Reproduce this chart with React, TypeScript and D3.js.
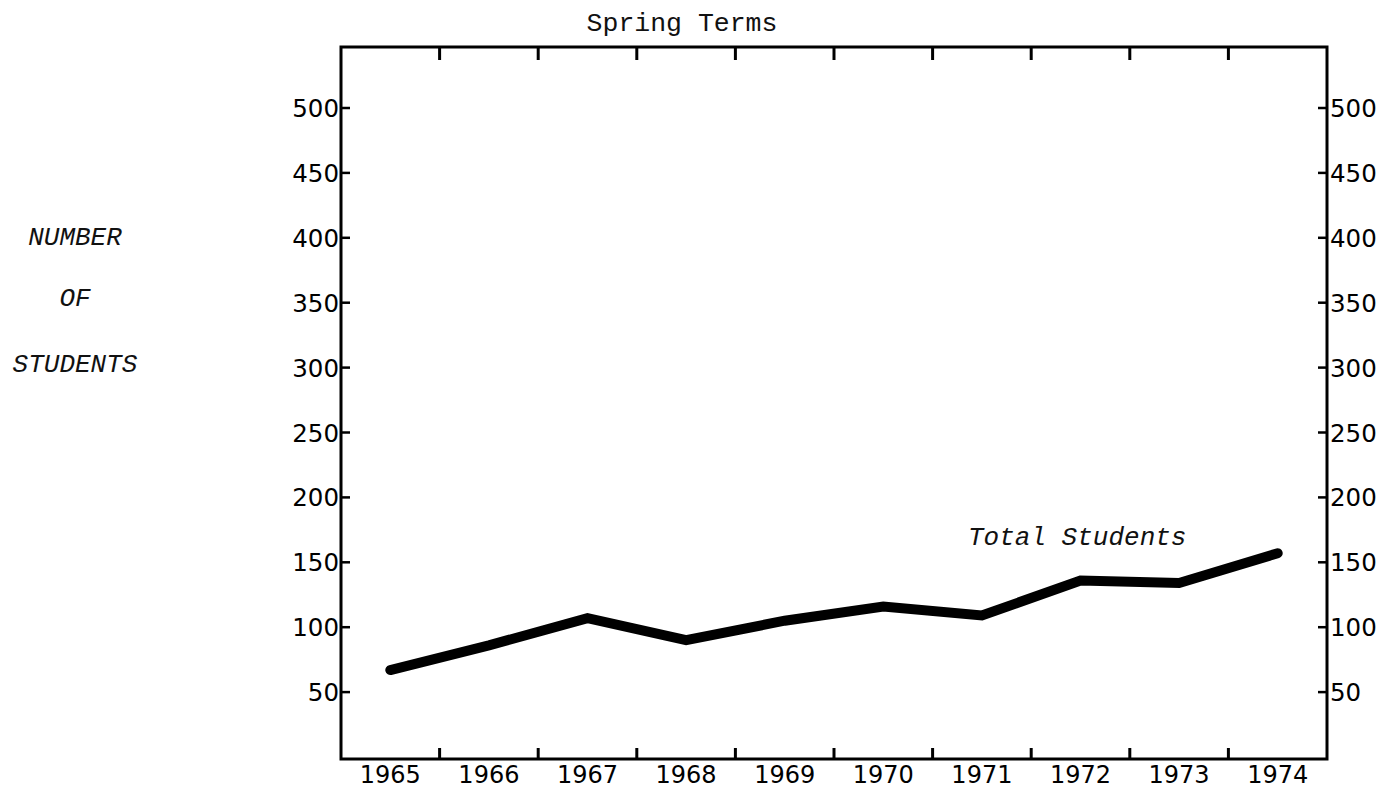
import React from 'react';
import * as d3 from 'd3';

const years = ['1965', '1966', '1967', '1968', '1969', '1970', '1971', '1972', '1973', '1974'];
const totalStudents = [67, 86, 107, 90, 105, 116, 109, 136, 134, 157];
const yTicks = [50, 100, 150, 200, 250, 300, 350, 400, 450, 500];
const axisTitleLines = ['NUMBER', 'OF', 'STUDENTS'];
const chartTitle = 'Spring Terms';
const seriesLabel = 'Total Students';

const W = 1383;
const H = 790;
const left = 341;
const right = 1327;
const top = 47;
const bottom = 759;

export default function App() {
  const x = d3.scaleBand<string>().domain(years).range([left, right]).padding(0);
  const y = d3.scaleLinear().domain([0, 547]).range([757, top]);
  const line = d3
    .line<number>()
    .x((_, i) => (x(years[i]) as number) + x.bandwidth() / 2)
    .y((d) => y(d));
  const boundaries = years.slice(1).map((yr) => x(yr) as number);
  const mono = '"Liberation Mono", "DejaVu Sans Mono", monospace';
  const sans = '"DejaVu Sans", Verdana, sans-serif';
  return (
    <svg width={W} height={H} style={{ position: 'absolute', left: 0, top: 0, background: '#fff' }}>
      <rect x={0} y={0} width={W} height={H} fill="#fff" />
      <text x={682} y={31} textAnchor="middle" fontFamily={mono} fontSize={26.5} fill="#111">
        {chartTitle}
      </text>
      {axisTitleLines.map((t, i) => (
        <text key={t} x={75} y={[245, 306, 372][i]} textAnchor="middle" fontFamily={mono} fontStyle="italic" fontSize={26} fill="#111">
          {t}
        </text>
      ))}
      <rect x={left} y={top} width={right - left} height={bottom - top} fill="none" stroke="#000" strokeWidth={3} />
      {boundaries.map((bx, i) => (
        <g key={i}>
          <line x1={bx} x2={bx} y1={bottom} y2={bottom - 11} stroke="#000" strokeWidth={3} />
          <line x1={bx} x2={bx} y1={top} y2={top + 13} stroke="#000" strokeWidth={3} />
        </g>
      ))}
      {years.map((yr) => (
        <text key={yr} x={(x(yr) as number) + x.bandwidth() / 2} y={783} textAnchor="middle" fontFamily={sans} fontSize={24} fill="#000">
          {yr}
        </text>
      ))}
      {yTicks.map((v) => (
        <g key={v}>
          <line x1={left} x2={left + 9} y1={y(v)} y2={y(v)} stroke="#000" strokeWidth={2.5} />
          <text x={left - 2} y={y(v) + 9} textAnchor="end" fontFamily={sans} fontSize={24.5} fill="#000">
            {v}
          </text>
          <line x1={right - 9} x2={right} y1={y(v)} y2={y(v)} stroke="#000" strokeWidth={2.5} />
          <text x={right + 3} y={y(v) + 9} textAnchor="start" fontFamily={sans} fontSize={24.5} fill="#000">
            {v}
          </text>
        </g>
      ))}
      <path d={line(totalStudents) || ''} fill="none" stroke="#000" strokeWidth={10} strokeLinecap="round" strokeLinejoin="miter" />
      <text x={968} y={545} fontFamily={mono} fontStyle="italic" fontSize={26} fill="#111">
        {seriesLabel}
      </text>
    </svg>
  );
}
